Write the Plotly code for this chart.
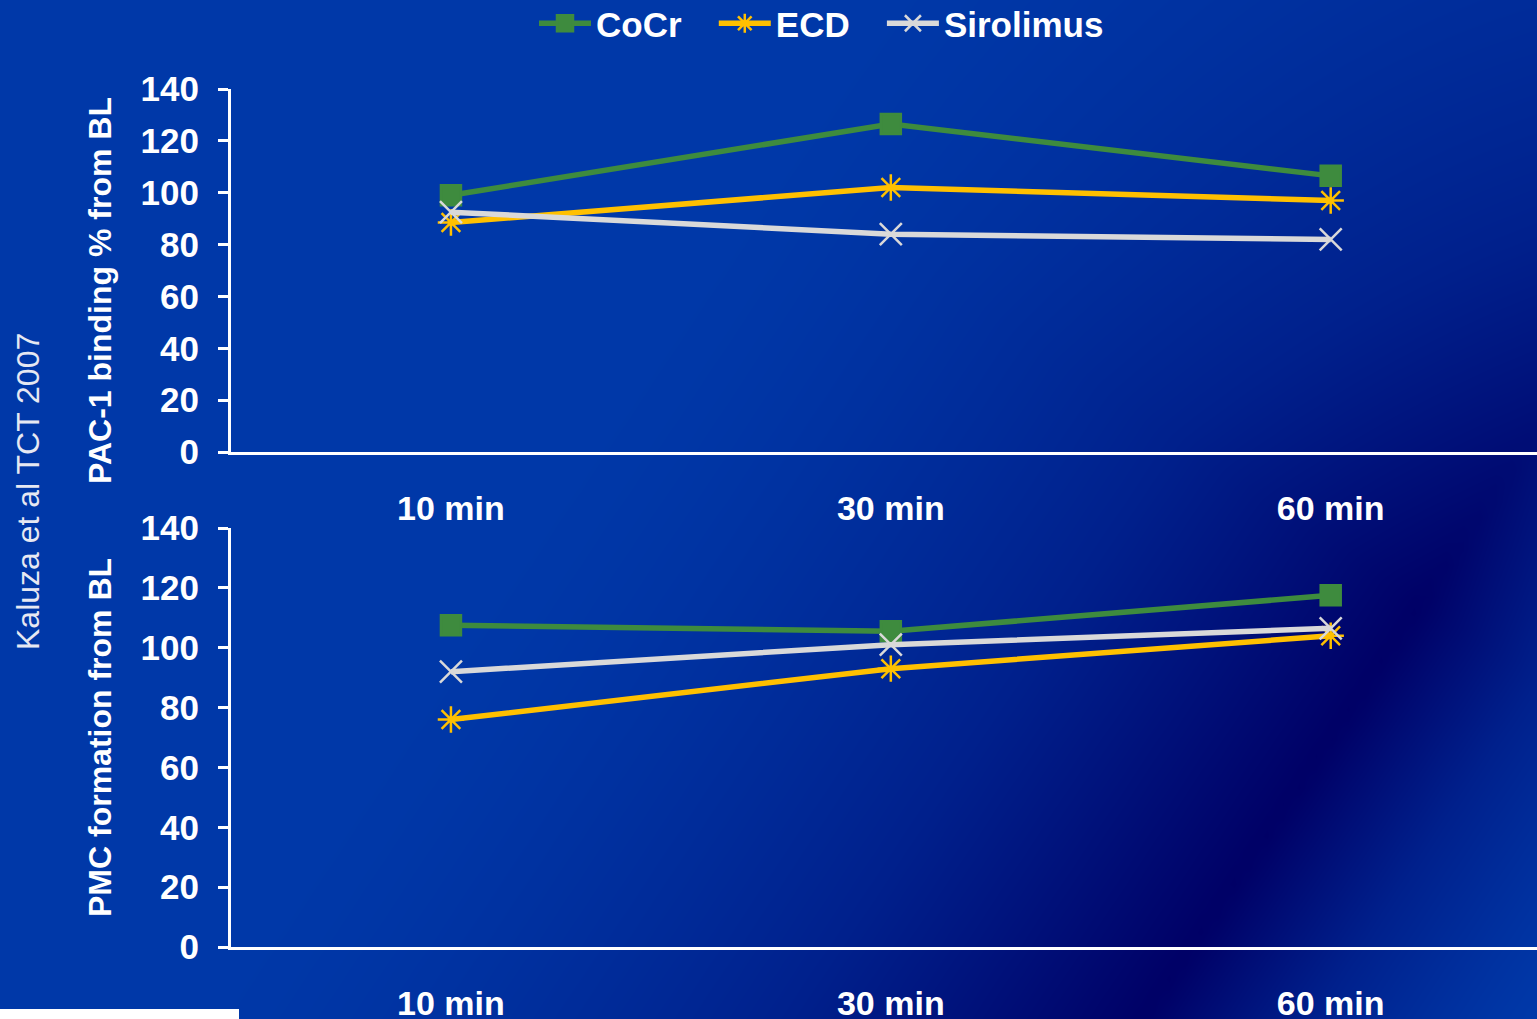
import numpy as np
import plotly.graph_objects as go

# ---------------- data ----------------
times = ["10 min", "30 min", "60 min"]
series_names = ["CoCr", "ECD", "Sirolimus"]
pac1_cocr = [99, 126.5, 106.5]
pac1_ecd = [88.5, 102, 97]
pac1_sirolimus = [92.5, 84, 82]
pmc_cocr = [107.5, 105.5, 117.5]
pmc_ecd = [76, 93, 104]
pmc_sirolimus = [92, 101, 106.5]
y_ticks = [0, 20, 40, 60, 80, 100, 120, 140]

W, H = 1537, 1019
colors = {"CoCr": "#3E8B3E", "ECD": "#FFC000", "Sirolimus": "#D9D9D9"}
symbols = {"CoCr": "square", "ECD": "asterisk-open", "Sirolimus": "x-thin-open"}
msize = {"CoCr": 20, "ECD": 22, "Sirolimus": 22}
# extra spacing after legend labels (en space + no-break space)
legend_pad = {"CoCr": "\u2002\u00a0", "ECD": "\u2002\u00a0", "Sirolimus": ""}

FONT = "Liberation Sans, Arial, sans-serif"

fig = go.Figure()

# ---------------- background gradient (style only) ----------------
gx = np.linspace(-40, W + 40, 100)
gy = np.linspace(-40, H + 40, 70)
GX, GY = np.meshgrid(gx, gy)
p0x, p0y = 1144, 1019
tx, ty = 0.555, -0.832   # along the dark ridge
nx, ny = 0.832, 0.555    # perpendicular (towards lower right)
dx, dy = GX - p0x, GY - p0y
s = dx * nx + dy * ny
along = dx * tx + dy * ty
left = np.clip(1 + s / 800, 0, 1) ** 1.5
right = np.clip(1 - s / 320, 0, 1) ** 1.2
perp = np.where(s < 0, left, right)
g = np.clip(1 - 0.6 * (along - 500) / 600, 0.3, 1)
shade = perp * g
fig.add_trace(go.Heatmap(
    x=gx, y=gy, z=shade, zmin=0, zmax=1, zsmooth="best",
    colorscale=[[0, "#0038A8"], [0.5, "#00208C"], [1, "#000066"]],
    showscale=False, hoverinfo="skip", xaxis="x", yaxis="y",
))

# ---------------- data traces ----------------
top = {"CoCr": pac1_cocr, "ECD": pac1_ecd, "Sirolimus": pac1_sirolimus}
bot = {"CoCr": pmc_cocr, "ECD": pmc_ecd, "Sirolimus": pmc_sirolimus}

for panel, axx, axy, show in ((top, "x2", "y2", True), (bot, "x3", "y3", False)):
    for name in series_names:
        mk = dict(symbol=symbols[name], size=msize[name], color=colors[name],
                  line=dict(color=colors[name], width=2.5))
        fig.add_trace(go.Scatter(
            x=times, y=panel[name], name=name + legend_pad[name],
            mode="lines+markers",
            line=dict(color=colors[name], width=5.5), marker=mk,
            xaxis=axx, yaxis=axy, legendgroup=name, showlegend=show,
        ))

# ---------------- layout ----------------
x0 = 231 / W
xrange_ = [-0.5, 2.469]


def px_to_paper_y(p):
    return (H - p) / H


xaxis_common = dict(
    type="category", range=xrange_, domain=[x0, 1], automargin=False,
    showline=True, linecolor="white", linewidth=3,
    showgrid=False, zeroline=False, ticks="",
    tickfont=dict(family=FONT, size=34, color="white", weight="bold"),
    ticklabelstandoff=24, fixedrange=True,
)
yaxis_common = dict(
    range=[0, 140], tickvals=y_ticks, automargin=False,
    showline=True, linecolor="white", linewidth=3,
    ticks="outside", ticklen=10, tickwidth=3, tickcolor="white",
    showgrid=False, zeroline=False,
    tickfont=dict(family=FONT, size=35, color="white", weight="bold"),
    ticklabelstandoff=12, fixedrange=True,
)

fig.update_layout(
    template="none",
    width=W, height=H, autosize=False,
    margin=dict(l=0, r=0, t=0, b=0, pad=0, autoexpand=False),
    paper_bgcolor="#0038A8", plot_bgcolor="rgba(0,0,0,0)",
    xaxis=dict(domain=[0, 1], range=[0, W], visible=False, fixedrange=True,
               automargin=False),
    yaxis=dict(domain=[0, 1], range=[H, 0], visible=False, fixedrange=True,
               automargin=False),
    xaxis2=dict(xaxis_common, anchor="y2"),
    yaxis2=dict(yaxis_common, anchor="x2",
                domain=[px_to_paper_y(452), px_to_paper_y(89)]),
    xaxis3=dict(xaxis_common, anchor="y3"),
    yaxis3=dict(yaxis_common, anchor="x3",
                domain=[px_to_paper_y(947), px_to_paper_y(528)]),
    showlegend=True,
    legend=dict(
        orientation="h", x=534 / W, xanchor="left",
        y=1 + 6 / H, yanchor="top",
        font=dict(family=FONT, size=35, color="white", weight="bold"),
        bgcolor="rgba(0,0,0,0)", borderwidth=0,
        itemwidth=52, tracegroupgap=0,
    ),
    annotations=[
        dict(text="PAC-1 binding % from BL", x=100 / W, y=px_to_paper_y(290),
             xref="paper", yref="paper", xanchor="center", yanchor="middle",
             textangle=-90, showarrow=False,
             font=dict(family=FONT, size=32, color="white", weight="bold")),
        dict(text="PMC formation from BL", x=100 / W, y=px_to_paper_y(737),
             xref="paper", yref="paper", xanchor="center", yanchor="middle",
             textangle=-90, showarrow=False,
             font=dict(family=FONT, size=32, color="white", weight="bold")),
        dict(text="Kaluza et al TCT 2007", x=28 / W, y=px_to_paper_y(492),
             xref="paper", yref="paper", xanchor="center", yanchor="middle",
             textangle=-90, showarrow=False,
             font=dict(family=FONT, size=32, color="#E6E8F2")),
    ],
    shapes=[
        dict(type="rect", xref="paper", yref="paper", x0=0, x1=239 / W,
             y0=0, y1=10 / H, fillcolor="white", line=dict(width=0),
             layer="above"),
    ],
)

fig.write_html(
    "out.html",
    config={"displayModeBar": False},
    post_script="document.body.style.margin='0';document.body.style.overflow='hidden';",
)
